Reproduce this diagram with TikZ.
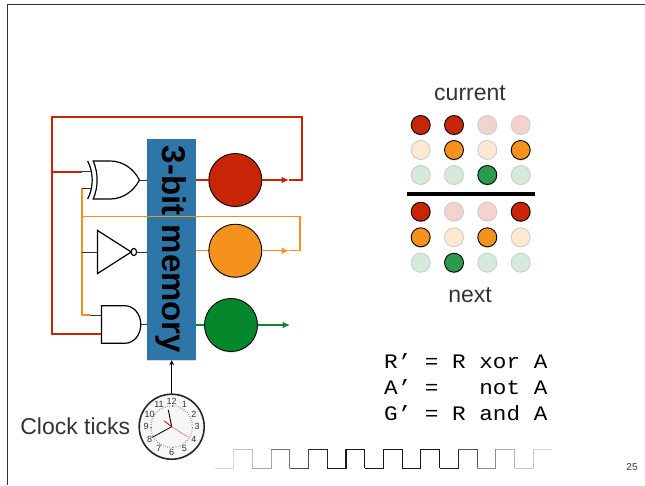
\documentclass[tikz,border=0pt]{standalone}
\usepackage{fontspec}
\setmainfont{Liberation Sans}
\setmonofont[FakeStretch=1.1]{Liberation Mono}
\usetikzlibrary{calc,positioning,arrows.meta,shadows,shapes.gates.logic.US}

\definecolor{memblue}{HTML}{2E75A8}
\definecolor{myred}{HTML}{C82506}
\definecolor{myorange}{HTML}{F5921E}
\definecolor{mygreen}{HTML}{04882B}
\definecolor{myink}{HTML}{333333}

\tikzset{
	softshadow/.style={drop shadow={shadow xshift=0pt, shadow yshift=-1.2pt, opacity=.3}},
	gate/.style={draw, line width=1.2pt, inner sep=0pt, transform shape},
	stub/.style={line width=1pt, draw=myink},
	redwire/.style={line width=1.5pt, draw=myred},
	orgwire/.style={line width=1.5pt, draw=myorange},
	grnwire/.style={line width=1.5pt, draw=mygreen},
	bigdot/.style={circle, draw=black, line width=0.9pt, minimum size=53pt, inner sep=0pt, softshadow},
	ondot/.style={circle, draw=black, line width=0.9pt, minimum size=19pt, inner sep=0pt, softshadow},
	offdot/.style={circle, draw=black!20, line width=0.9pt, minimum size=19pt, inner sep=0pt},
	slidetext/.style={font=\fontsize{23}{24}\selectfont, text=myink},
	eqn/.style={font=\ttfamily\fontsize{20.6}{26}\selectfont, anchor=west, inner sep=0pt},
	wiretip/.style={-{Latex[length=7.5pt,width=7pt]}}
}

\begin{document}
\begin{tikzpicture}[x=1pt,y=-1pt]
	\useasboundingbox (0,0) rectangle (645,485);

	% slide edge
	\coordinate (slidetl) at (7.5,4.5);
	\draw[line width=1pt, draw=myink] (7.5,485) -- (slidetl) -- (645,4.5);

	% memory
	\node[fill=memblue, rotate=-90, minimum width=221pt, minimum height=49pt, inner sep=0pt, softshadow,
		font=\bfseries\fontsize{33}{33}\selectfont] (mem) at (171.5,249.5) {3-bit memory};

	% state
	\node[bigdot, fill=myred] (redc) at (235.3,180) {};
	\node[bigdot, fill=myorange] (orgc) at (235.3,250.7) {};
	\node[bigdot, fill=mygreen] (grnc) at (231,325) {};

	% gates
	\node[gate, xor gate US, logic gate inputs=nn, xscale=.89, minimum width=48pt, minimum height=38pt] (xorg) at (113,180) {};
	\node[gate, not gate US, logic gate inverted radius=3.6pt, xscale=.75, minimum width=32pt, minimum height=37pt] (notg) at (109,252) {};
	\node[gate, and gate US, logic gate inputs=nnn, xscale=.84, minimum width=39pt, minimum height=37.5pt] (andg) at (119.8,324.5) {};

	\draw[stub] (xorg.output) -- (xorg.output -| mem.south);
	\draw[stub] (notg.output) -- (notg.output -| mem.south);
	\draw[stub] (andg.output) -- (andg.output -| mem.south);

	% feedback
	\coordinate (redtip) at (289,180);
	\coordinate (orgtip) at (289,250.7);
	\coordinate (grntip) at (290,325);
	\coordinate (redne) at (302,117);
	\coordinate (rednw) at (52,117);
	\coordinate (orgne) at (300,216.7);
	\coordinate (orgnw) at (82,216.7);
	\coordinate (andin) at ($(andg.input 1)+(-11,0)$);
	\coordinate (xorup) at ($(xorg.input 1)+(-0.5,-1.7)$);
	\coordinate (xordn) at ($(xorg.input 2)+(-0.5,1.7)$);

	\draw[redwire] (mem.north |- redc) -- (redc);
	\draw[orgwire] (mem.north |- orgc) -- (orgc);
	\draw[grnwire] (mem.north |- grnc) -- (grnc);
	\draw[redwire,wiretip] (redc) -- (redtip);
	\draw[orgwire,wiretip] (orgc) -- (orgtip);
	\draw[grnwire,wiretip] (grnc) -- (grntip);

	\draw[redwire] (redtip) -| (redne) -- (rednw) |- (andg.input 3);
	\draw[redwire] (rednw |- xorup) -- (orgnw |- xorup);
	\draw[orgwire] (orgtip) -| (orgne) -- (orgnw) -- (orgnw |- xordn);
	\draw[orgwire] (orgnw) |- (andin);

	\draw[stub] (orgnw |- xorup) -- (xorup);
	\draw[stub] (orgnw |- xordn) -- (xordn);
	\draw[stub] (orgnw |- notg.input) -- (notg.input);
	\draw[stub] (andin) -- (andg.input 1);

	% clock
	\node[circle, draw=black!85, line width=1.6pt, fill=black!3, minimum size=65pt, inner sep=0pt] (clock) at (171.7,426.7) {};
	\foreach \t in {0,6,...,354}
		\draw[line width=0.4pt, draw=black!60] (clock.center) ++(\t:20) -- ++(\t:1.5);
	\foreach \h in {1,...,12}
		\node[font=\fontsize{9}{9}\selectfont, text=myink, inner sep=0pt] (hour\h) at ($(clock.center)+({30*\h-90}:25.5)$) {\h};
	\draw[line width=0.9pt] (clock.center) -- ++(-3.4,-16.7);
	\draw[line width=0.8pt] (clock.center) -- ++(-19.4,10.6);
	\draw[line width=0.25pt, draw=red] (clock.center) -- ++(16.6,10.6);
	\draw[line width=0.9pt, draw=red] (clock.center) -- ++(-7.4,-5.7);
	\draw[line width=1pt, -{Stealth[length=5pt,width=5pt]}] (clock) -- (clock |- mem.east);

	\node[slidetext, left=8pt of clock, inner sep=0pt] (ticks) {Clock ticks};

	% clock signal
	\foreach \i/\g in {0/15,1/25,2/35,3/55,4/70,5/85,6/90,7/90,8/90,9/90,10/90,11/90,12/85,13/65,14/45,15/30,16/22,17/15}{
		\pgfmathsetmacro{\xa}{215+18.72*\i}
		\pgfmathsetmacro{\xb}{\xa+18.72}
		\pgfmathsetmacro{\ya}{mod(\i,2)==0 ? 468.3 : 449.3}
		\pgfmathsetmacro{\yb}{mod(\i,2)==0 ? 449.3 : 468.3}
		\ifnum\i<17
			\draw[line width=1.1pt, draw=black!\g, line join=miter] (\xa,\ya) -- (\xb,\ya) -- (\xb,\yb);
		\else
			\draw[line width=1.1pt, draw=black!\g] (\xa,\ya) -- (\xb,\ya);
		\fi
	}

	% truth table
	\node[slidetext] (current) at (470,93) {current};
	\node[ondot, fill=myred] (r11) at (420.7,125) {};
	\node[ondot, fill=myred] (r12) at (454,125) {};
	\node[offdot, fill=myred!20] (r13) at (487.3,125) {};
	\node[offdot, fill=myred!20] (r14) at (520.7,125) {};
	\node[offdot, fill=myorange!20] (a11) at (420.7,150) {};
	\node[ondot, fill=myorange] (a12) at (454,150) {};
	\node[offdot, fill=myorange!20] (a13) at (487.3,150) {};
	\node[ondot, fill=myorange] (a14) at (520.7,150) {};
	\node[offdot, fill=mygreen!17] (g11) at (420.7,175) {};
	\node[offdot, fill=mygreen!17] (g12) at (454,175) {};
	\node[ondot, fill=mygreen!85] (g13) at (487.3,175) {};
	\node[offdot, fill=mygreen!17] (g14) at (520.7,175) {};

	\coordinate (barl) at (406.7,193.7);
	\coordinate (barr) at (534.7,193.7);
	\draw[line width=4pt] (barl) -- (barr);

	\node[ondot, fill=myred] (r21) at (420.7,211.7) {};
	\node[offdot, fill=myred!20] (r22) at (454,211.7) {};
	\node[offdot, fill=myred!20] (r23) at (487.3,211.7) {};
	\node[ondot, fill=myred] (r24) at (520.7,211.7) {};
	\node[ondot, fill=myorange] (a21) at (420.7,237.3) {};
	\node[offdot, fill=myorange!20] (a22) at (454,237.3) {};
	\node[ondot, fill=myorange] (a23) at (487.3,237.3) {};
	\node[offdot, fill=myorange!20] (a24) at (520.7,237.3) {};
	\node[offdot, fill=mygreen!17] (g21) at (420.7,262.7) {};
	\node[ondot, fill=mygreen!85] (g22) at (454,262.7) {};
	\node[offdot, fill=mygreen!17] (g23) at (487.3,262.7) {};
	\node[offdot, fill=mygreen!17] (g24) at (520.7,262.7) {};
	\node[slidetext] (nextrow) at (470,295) {next};

	% equations
	\node[eqn] (eqr) at (384,361) {R’~=~R~xor~A};
	\node[eqn] (eqa) at (384,387) {A’~=~~~not~A};
	\node[eqn] (eqg) at (384,413) {G’~=~R~and~A};

	\node[font=\fontsize{10}{10}\selectfont, text=myink] (pagenum) at (632,467) {25};
\end{tikzpicture}
\end{document}
